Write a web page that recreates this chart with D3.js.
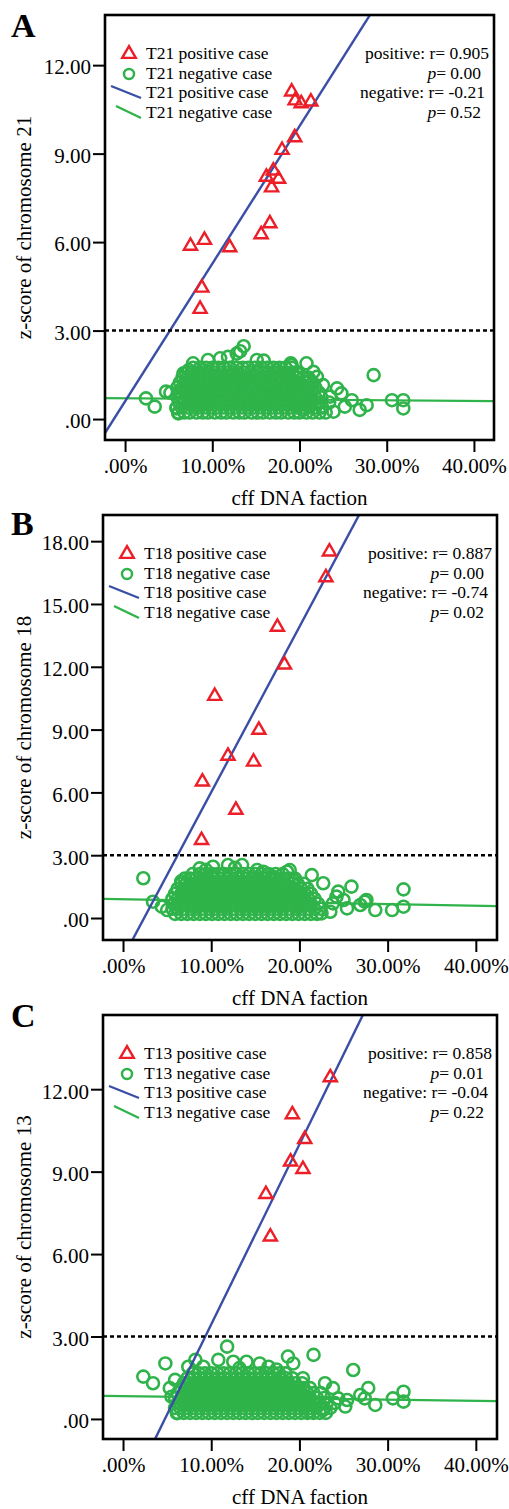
<!DOCTYPE html>
<html>
<head>
<meta charset="utf-8">
<script src="https://cdn.jsdelivr.net/npm/d3@7/dist/d3.min.js"></script>
<style>
body { margin: 0; background: #fff; }
svg { display: block; }
</style>
</head>
<body>
<div id="chart"></div>
<script>

// ---- data (cff DNA fraction in %, z-score) ----
var xTicks = [0, 10, 20, 30, 40];
var yTicksA = [0, 3, 6, 9, 12];
var yTicksB = [0, 3, 6, 9, 12, 15, 18];
var yTicksC = [0, 3, 6, 9, 12];

var posA = [[19.1,11.1],[19.5,10.8],[20.2,10.7],[21.3,10.76],[19.45,9.55],[18.0,9.12],[17.0,8.42],[16.2,8.21],
    [17.6,8.14],[16.8,7.85],[16.6,6.63],[15.6,6.26],[9.1,6.07],[7.5,5.87],[12.0,5.82],[8.8,4.45],[8.6,3.73]];
var posB = [[23.4,17.5],[23.0,16.27],[17.5,13.9],[18.3,12.1],[10.4,10.6],[15.4,8.98],[11.9,7.74],[14.8,7.46],
    [9.0,6.51],[12.8,5.16],[8.9,3.72]];
var posC = [[23.5,12.43],[19.2,11.08],[20.6,10.18],[19.0,9.36],[20.4,9.09],[16.2,8.18],[16.7,6.63]];

// dense part of the negative cases, row by row: [z-score, [cff values]]
var negRowsA = [
    [0.22, [6.1,6.8,7.4,8.2,8.9,9.5,10.3,11.0,11.6,12.4,13.1,13.7,14.5,15.2,15.8,16.6,17.3,17.9,18.7,19.4,20.0,20.8,21.5,22.3,23.0]],
    [0.39, [5.9,6.5,7.2,7.9,8.5,9.2,9.9,10.6,11.3,12.0,12.7,13.4,14.1,14.8,15.5,16.2,16.9,17.6,18.3,19.0,19.7,20.4,21.1,21.8,22.6]],
    [0.56, [6.2,6.8,7.6,8.2,8.9,9.6,10.2,11.0,11.7,12.3,13.0,13.8,14.4,15.1,15.9,16.5,17.2,18.0,18.6,19.3,20.1,20.7,21.4,22.2,23.4]],
    [0.73, [6.0,6.5,7.2,7.9,8.6,9.3,9.9,10.6,11.3,12.0,12.7,13.3,14.1,14.8,15.5,16.2,16.8,17.6,18.3,19.0,19.6,20.4,21.1,21.8,22.5]],
    [0.90, [6.2,6.9,7.5,8.3,8.9,9.6,10.3,10.9,11.7,12.4,13.0,13.7,14.5,15.1,15.8,16.6,17.2,17.9,18.6,19.3,20.0,20.8,21.4,22.2]],
    [1.07, [6.0,6.6,7.2,7.9,8.6,9.3,10.0,10.6,11.3,12.1,12.7,13.4,14.1,14.8,15.4,16.2,16.9,17.5,18.3,19.0,19.6,20.3,21.1,21.8]],
    [1.24, [6.3,6.9,7.6,8.2,9.0,9.6,10.3,11.0,11.6,12.4,13.1,13.7,14.4,15.2,15.8,16.5,17.3,17.9,18.6,19.3,20.0,20.7,21.5]],
    [1.41, [6.6,7.2,7.9,8.6,9.3,9.9,10.7,11.3,12.0,12.7,13.4,14.0,14.8,15.5,16.1,16.8,17.5,18.2,18.9,19.6,20.4,21.0]],
    [1.58, [7.0,7.6,8.3,9.0,9.6,10.3,11.0,11.7,12.4,13.0,13.7,14.4,15.1,15.8,16.5,17.1,17.9,18.5,19.2,19.9]],
    [1.74, [7.8,8.6,9.3,10.0,10.7,11.3,12.0,12.8,13.5,14.1,14.9,15.6,16.3,17.0,17.7,18.4,19.1]]
];
var negOutA = [[2.4,0.70],[3.4,0.42],[4.7,0.93],[5.2,0.89],[6.1,0.19],[5.9,0.36],[6.7,1.55],[7.3,1.66],[7.8,1.89],
    [9.5,2.0],[10.9,2.06],[11.8,2.11],[12.8,2.22],[13.6,2.47],[13.2,2.3],[15.1,2.0],[15.9,1.98],[17.4,1.66],[19.0,1.89],
    [19.7,1.55],[19.1,1.83],[20.8,1.89],[21.6,1.6],[22.0,1.43],[21.2,1.32],[22.7,1.15],[24.3,1.04],[24.8,0.87],
    [26.0,0.64],[26.9,0.31],[27.7,0.47],[28.5,1.49],[30.6,0.64],[31.9,0.64],[31.9,0.36],[23.9,0.25],[25.2,0.42],
    [23.5,0.76],[22.5,0.42],[20.4,0.31]];

var negRowsB = [
    [0.20, [5.9,6.6,7.3,8.0,8.7,9.4,10.1,10.8,11.5,12.2,12.9,13.6,14.3,15.0,15.7,16.4,17.1,17.8,18.5,19.2,19.9,20.6,21.3,22.0]],
    [0.44, [5.6,6.2,6.9,7.7,8.3,9.0,9.8,10.4,11.2,11.8,12.5,13.3,13.9,14.7,15.3,16.1,16.7,17.5,18.1,18.9,19.6,20.2,21.0,21.7,22.4]],
    [0.68, [5.8,6.5,7.3,7.9,8.7,9.3,10.1,10.8,11.5,12.2,12.9,13.6,14.3,15.0,15.6,16.4,17.1,17.8,18.5,19.2,19.9,20.6,21.3,22.1]],
    [0.92, [5.6,6.2,6.9,7.6,8.3,9.0,9.7,10.4,11.1,11.8,12.6,13.2,13.9,14.6,15.4,16.0,16.8,17.4,18.2,18.8,19.6,20.3,21.0,21.7]],
    [1.16, [5.9,6.6,7.2,8.0,8.6,9.4,10.0,10.8,11.5,12.1,12.9,13.6,14.2,15.0,15.7,16.3,17.1,17.8,18.4,19.2,19.9,20.6,21.3]],
    [1.40, [6.2,6.9,7.6,8.3,9.0,9.7,10.4,11.1,11.8,12.5,13.2,13.9,14.6,15.3,16.0,16.7,17.4,18.1,18.8,19.5,20.2,20.9]],
    [1.64, [6.6,7.2,8.0,8.6,9.3,10.1,10.7,11.5,12.1,12.8,13.6,14.2,15.0,15.6,16.3,17.1,17.7,18.4,19.2,19.8,20.5]],
    [1.88, [7.0,7.6,8.3,9.0,9.7,10.4,11.1,11.8,12.5,13.2,13.9,14.6,15.3,16.0,16.7,17.4,18.1,18.8,19.5]],
    [2.10, [7.9,8.7,9.4,10.1,10.8,11.5,12.2,12.9,13.6,14.3,15.0,15.7,16.5,17.3,18.1]]
];
var negOutB = [[2.3,1.9],[3.4,0.78],[4.4,0.54],[5.0,0.38],[8.7,2.37],[10.2,2.45],[11.9,2.53],[13.5,2.53],[15.2,2.29],
    [15.9,2.21],[17.0,1.97],[18.6,2.21],[19.3,1.81],[18.9,2.29],[21.4,2.05],[22.7,1.66],[24.4,1.26],[25.9,1.5],
    [27.6,0.86],[25.0,0.86],[26.9,0.62],[28.6,0.38],[25.4,0.46],[23.8,0.7],[22.5,0.22],[30.5,0.38],[31.8,0.54],
    [31.8,1.37],[23.5,0.3],[24.2,1.02],[27.4,0.78],[9.4,2.3],[12.7,2.4],[6.6,1.75]];

var negRowsC = [
    [0.22, [6.2,6.9,7.6,8.3,9.0,9.7,10.4,11.1,11.8,12.5,13.2,13.9,14.6,15.3,16.0,16.7,17.4,18.1,18.8,19.5,20.2,20.9,21.6,22.3,23.0]],
    [0.40, [5.9,6.5,7.3,7.9,8.7,9.3,10.1,10.7,11.5,12.1,12.9,13.5,14.3,14.9,15.7,16.3,17.1,17.7,18.5,19.1,19.9,20.5,21.3,21.9,22.7,23.5]],
    [0.58, [6.2,6.9,7.6,8.3,9.0,9.7,10.4,11.1,11.8,12.5,13.2,13.9,14.6,15.3,16.0,16.7,17.4,18.1,18.8,19.5,20.2,20.9,21.6,22.3,23.1,24.0]],
    [0.76, [5.9,6.6,7.2,8.0,8.6,9.4,10.0,10.8,11.4,12.2,12.8,13.6,14.2,15.0,15.6,16.4,17.0,17.8,18.4,19.2,19.8,20.6,21.2,22.0,22.8]],
    [0.94, [6.2,6.9,7.6,8.3,9.0,9.7,10.4,11.1,11.8,12.5,13.2,13.9,14.6,15.3,16.0,16.7,17.4,18.1,18.8,19.5,20.2,20.9,21.6,22.4]],
    [1.12, [6.5,7.2,7.9,8.6,9.3,10.0,10.7,11.4,12.1,12.8,13.5,14.2,14.9,15.6,16.3,17.0,17.7,18.4,19.1,19.8,20.5,21.2]],
    [1.30, [6.9,7.6,8.3,9.0,9.7,10.4,11.1,11.8,12.5,13.2,13.9,14.6,15.3,16.0,16.7,17.4,18.1,18.8,19.5,20.3]],
    [1.48, [7.3,8.0,8.7,9.4,10.1,10.8,11.5,12.2,12.9,13.6,14.3,15.0,15.7,16.4,17.1,17.8,18.5,19.2]],
    [1.66, [7.9,8.6,9.3,10.0,10.7,11.4,12.1,12.8,13.5,14.2,14.9,15.6,16.3,17.0,17.7,18.4]]
];
var negOutC = [[2.3,1.54],[3.4,1.3],[4.8,2.02],[5.3,1.12],[5.9,1.42],[5.5,0.81],[6.1,0.21],[7.4,1.9],[8.2,2.15],
    [9.1,1.9],[10.8,2.15],[11.8,2.63],[12.5,2.08],[14.0,2.08],[15.5,2.02],[16.5,1.9],[18.7,2.27],[19.3,2.02],
    [21.6,2.33],[26.1,1.78],[20.4,1.48],[22.9,1.3],[23.8,1.12],[27.8,1.12],[26.9,0.87],[28.6,0.51],[27.4,0.75],
    [30.6,0.75],[31.8,0.99],[31.8,0.63],[25.2,0.45],[25.4,0.69],[22.7,0.33],[21.2,0.27],[24.4,0.75],[13.2,1.85],[17.4,1.8]];

// regression lines: [intercept, slope]
var fitPosA = [0.60, 0.4666], fitNegA = [0.705, -0.00224];
var fitPosB = [-1.89, 0.79],  fitNegB = [0.893, -0.0076];
var fitPosC = [-3.11, 0.655], fitNegC = [0.83, -0.00425];

var statsA = ["0.905", "0.00", "-0.21", "0.52"];
var statsB = ["0.887", "0.00", "-0.74", "0.02"];
var statsC = ["0.858", "0.01", "-0.04", "0.22"];

var cutoff = 3;


var width = 509;
var height = 1509;
var svg = d3.select("#chart")
    .append("svg")
    .attr("width", width)
    .attr("height", height);

var RED = "#ec1f28", GREEN = "#2fb34a", BLUE = "#3a4ea6";
var FONT = "'Liberation Serif', 'Times New Roman', serif";

function flatRows(rows) {
    var out = [];
    rows.forEach(function(r) {
        r[1].forEach(function(x) { out.push([x, r[0]]); });
    });
    return out;
}

function fmtY(d) { return d3.format(".2f")(d).replace(/^0\./, "."); }
function fmtX(d) { return (d3.format(".2f")(d) + "%").replace(/^0\./, "."); }

var panels = [
    {id: "A", chr: "T21", title: "z-score of chromosome 21", pos: posA, neg: flatRows(negRowsA).concat(negOutA),
     fitPos: fitPosA, fitNeg: fitNegA, stats: statsA, yTicks: yTicksA,
     xDom: [-2.3, 42.3], yDom: [-0.71, 13.7], left: 105, right: 494, top: 15, bottom: 440, letterY: 37},
    {id: "B", chr: "T18", title: "z-score of chromosome 18", pos: posB, neg: flatRows(negRowsB).concat(negOutB),
     fitPos: fitPosB, fitNeg: fitNegB, stats: statsB, yTicks: yTicksB,
     xDom: [-2.27, 42.4], yDom: [-1.05, 19.25], left: 103, right: 497, top: 515, bottom: 940, letterY: 535},
    {id: "C", chr: "T13", title: "z-score of chromosome 13", pos: posC, neg: flatRows(negRowsC).concat(negOutC),
     fitPos: fitPosC, fitNeg: fitNegC, stats: statsC, yTicks: yTicksC,
     xDom: [-2.27, 42.4], yDom: [-0.73, 14.7], left: 103, right: 497, top: 1015, bottom: 1439, letterY: 1027}
];

panels.forEach(function(p) {
    var x = d3.scaleLinear().domain(p.xDom).range([p.left, p.right]);
    var y = d3.scaleLinear().domain(p.yDom).range([p.bottom, p.top]);
    var g = svg.append("g").attr("font-family", FONT);

    svg.append("clipPath").attr("id", "clip" + p.id)
        .append("rect")
        .attr("x", p.left).attr("y", p.top)
        .attr("width", p.right - p.left).attr("height", p.bottom - p.top);

    var plot = g.append("g").attr("clip-path", "url(#clip" + p.id + ")");

    // negative cases
    plot.selectAll("circle.neg")
        .data(p.neg)
        .enter()
        .append("circle")
        .attr("class", "neg")
        .attr("cx", function(d) { return x(d[0]); })
        .attr("cy", function(d) { return y(d[1]); })
        .attr("r", 6)
        .attr("fill", "none")
        .attr("stroke", GREEN)
        .attr("stroke-width", 2.6);

    // fit lines
    var line = d3.line().x(function(d) { return x(d[0]); }).y(function(d) { return y(d[1]); });
    function fitPts(f) {
        return p.xDom.map(function(v) { return [v, f[0] + f[1] * v]; });
    }
    plot.append("path")
        .attr("d", line(fitPts(p.fitNeg)))
        .attr("fill", "none")
        .attr("stroke", GREEN)
        .attr("stroke-width", 2.2);
    plot.append("path")
        .attr("d", line(fitPts(p.fitPos)))
        .attr("fill", "none")
        .attr("stroke", BLUE)
        .attr("stroke-width", 2.4);

    // positive cases
    var tri = d3.symbol().type(d3.symbolTriangle).size(75);
    plot.selectAll("path.pos")
        .data(p.pos)
        .enter()
        .append("path")
        .attr("class", "pos")
        .attr("d", tri)
        .attr("transform", function(d) { return "translate(" + x(d[0]) + "," + y(d[1]) + ")"; })
        .attr("fill", "none")
        .attr("stroke", RED)
        .attr("stroke-width", 2.4);

    // cut-off line
    plot.append("line")
        .attr("x1", p.left).attr("x2", p.right)
        .attr("y1", y(cutoff)).attr("y2", y(cutoff))
        .attr("stroke", "#000")
        .attr("stroke-width", 2.5)
        .attr("stroke-dasharray", "4,3");

    // axes
    var yAxis = g.append("g")
        .attr("transform", "translate(" + p.left + ",0)")
        .call(d3.axisLeft(y).tickValues(p.yTicks).tickFormat(fmtY).tickSize(12).tickPadding(2));
    var xAxis = g.append("g")
        .attr("transform", "translate(0," + p.bottom + ")")
        .call(d3.axisBottom(x).tickValues(xTicks).tickFormat(fmtX).tickSize(12).tickPadding(6));
    [xAxis, yAxis].forEach(function(a) {
        a.select(".domain").remove();
        a.selectAll("line").attr("stroke", "#000").attr("stroke-width", 2);
        a.selectAll("text")
            .attr("font-family", FONT)
            .attr("font-size", "21px")
            .attr("fill", "#000");
    });
    yAxis.selectAll("text").attr("dy", "0.42em");

    // frame
    g.append("rect")
        .attr("x", p.left).attr("y", p.top)
        .attr("width", p.right - p.left).attr("height", p.bottom - p.top)
        .attr("fill", "none")
        .attr("stroke", "#000")
        .attr("stroke-width", 2.6);

    // axis titles
    g.append("text")
        .attr("x", (p.left + p.right) / 2)
        .attr("y", p.bottom + 65)
        .attr("text-anchor", "middle")
        .attr("font-size", "21px")
        .text("cff DNA faction");
    g.append("text")
        .attr("transform", "translate(31," + (p.top + p.bottom) / 2 + ") rotate(-90)")
        .attr("text-anchor", "middle")
        .attr("font-size", "21px")
        .text(p.title);

    // panel letter
    g.append("text")
        .attr("x", 11)
        .attr("y", p.letterY)
        .attr("font-size", "34px")
        .attr("font-weight", "bold")
        .text(p.id);

    // legend
    var lx = p.left, ly = p.top;
    g.append("path")
        .attr("d", d3.symbol().type(d3.symbolTriangle).size(80)())
        .attr("transform", "translate(" + (lx + 24) + "," + (ly + 39) + ")")
        .attr("fill", "none").attr("stroke", RED).attr("stroke-width", 2.4);
    g.append("circle")
        .attr("cx", lx + 24).attr("cy", ly + 59).attr("r", 5)
        .attr("fill", "none").attr("stroke", GREEN).attr("stroke-width", 2.5);
    g.append("line")
        .attr("x1", lx + 6).attr("y1", ly + 71).attr("x2", lx + 36).attr("y2", ly + 83)
        .attr("stroke", BLUE).attr("stroke-width", 2.4);
    g.append("line")
        .attr("x1", lx + 11).attr("y1", ly + 91).attr("x2", lx + 36).attr("y2", ly + 103)
        .attr("stroke", GREEN).attr("stroke-width", 2.4);
    var labels = [p.chr + " positive case", p.chr + " negative case", p.chr + " positive case", p.chr + " negative case"];
    var base = [44, 64, 83, 103];
    labels.forEach(function(t, i) {
        g.append("text")
            .attr("x", lx + 41)
            .attr("y", ly + base[i])
            .attr("font-size", "17.5px")
            .text(t);
    });

    // correlation text
    g.append("text").attr("x", p.right - 5).attr("y", ly + base[0])
        .attr("text-anchor", "end").attr("font-size", "17.5px")
        .text("positive: r= " + p.stats[0]);
    var s2 = g.append("text").attr("x", p.right - 13).attr("y", ly + base[1])
        .attr("text-anchor", "end").attr("font-size", "17.5px");
    s2.append("tspan").attr("font-style", "italic").text("p");
    s2.append("tspan").text("= " + p.stats[1]);
    g.append("text").attr("x", p.right - 9).attr("y", ly + base[2])
        .attr("text-anchor", "end").attr("font-size", "17.5px")
        .text("negative: r= " + p.stats[2]);
    var s4 = g.append("text").attr("x", p.right - 13).attr("y", ly + base[3])
        .attr("text-anchor", "end").attr("font-size", "17.5px");
    s4.append("tspan").attr("font-style", "italic").text("p");
    s4.append("tspan").text("= " + p.stats[3]);
});

</script>
</body>
</html>
